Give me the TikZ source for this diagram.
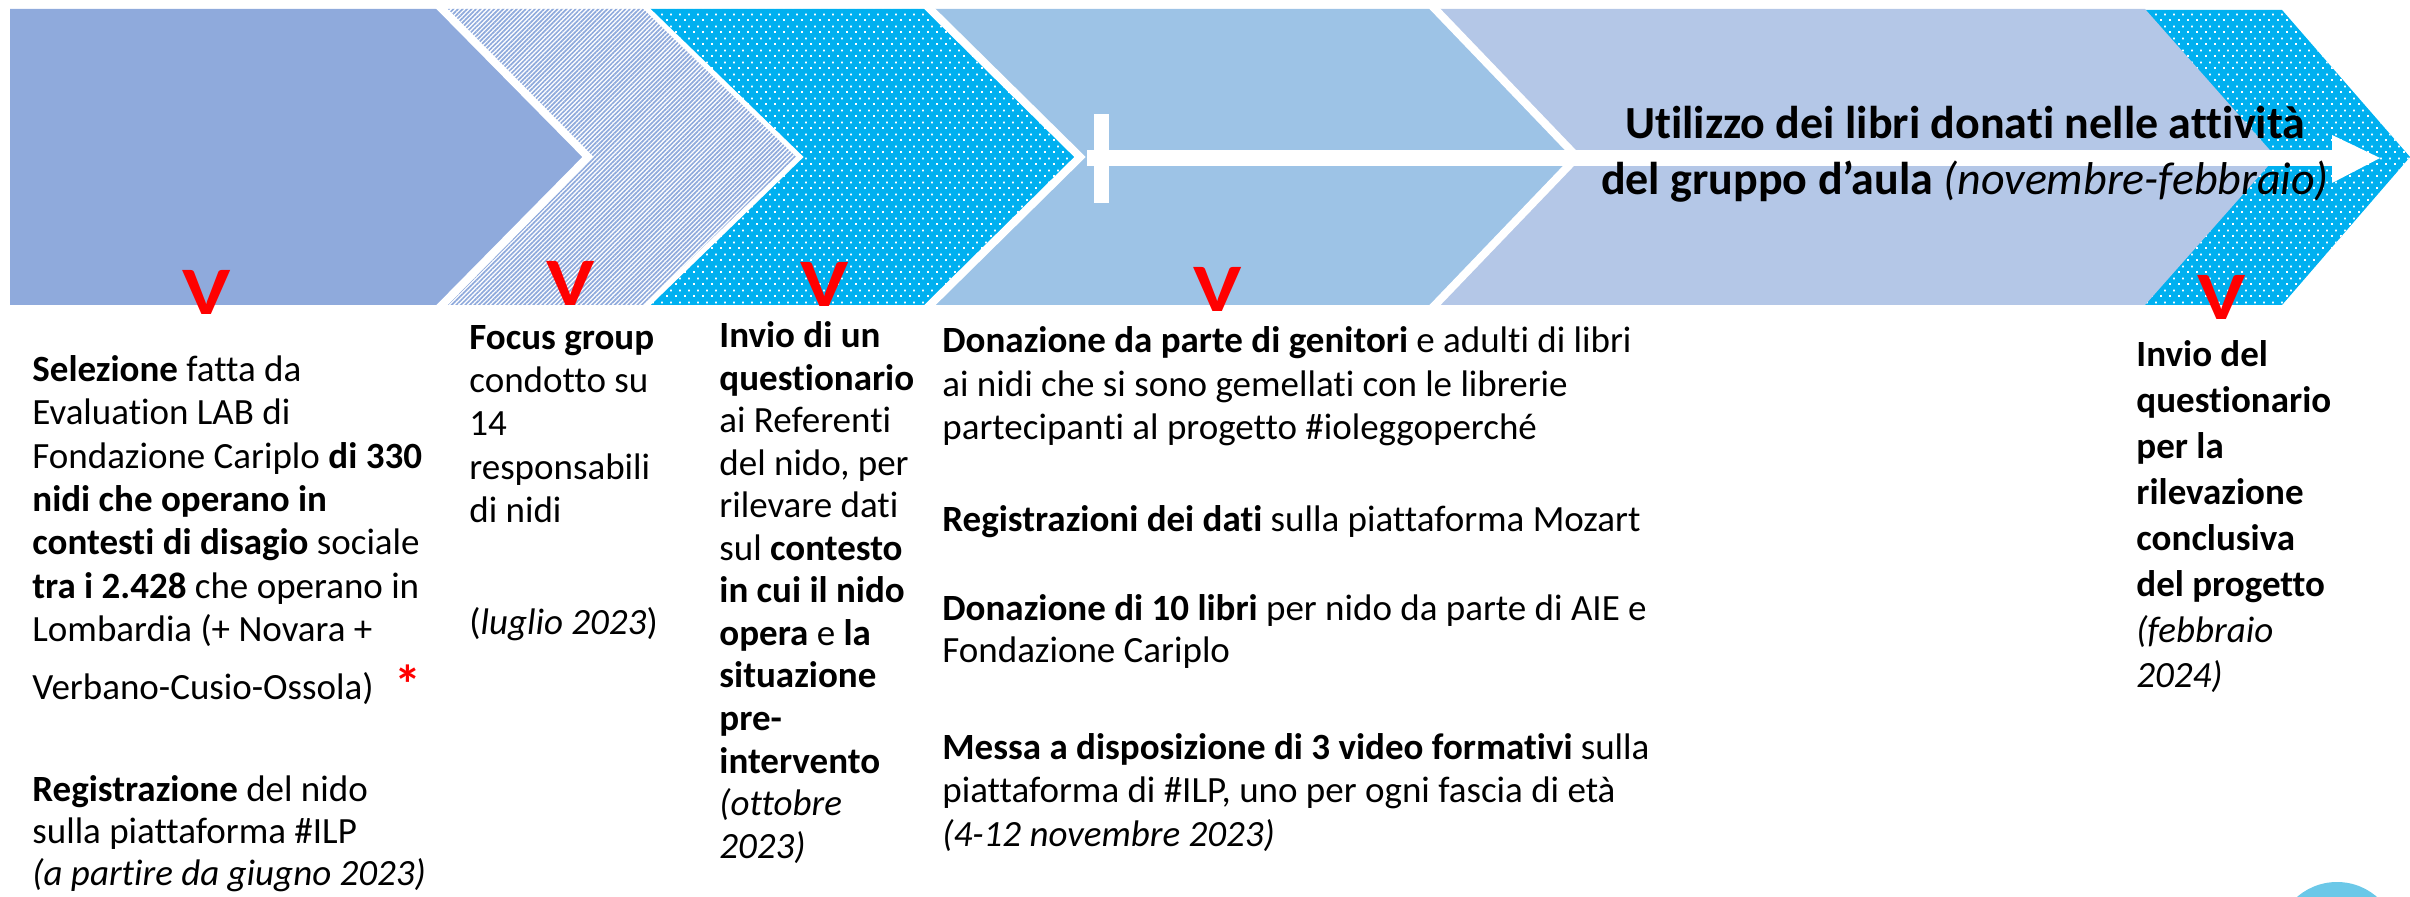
\documentclass[tikz,border=0pt]{standalone}
\usepackage{fontspec}
\setmainfont{Carlito}[Ligatures={NoCommon}]
\usepackage{graphicx}
\usetikzlibrary{patterns,patterns.meta}
\definecolor{cA}{HTML}{8FAADC}
\definecolor{cC}{HTML}{00B0F0}
\definecolor{cD}{HTML}{9DC3E6}
\definecolor{cE}{HTML}{B4C7E7}
\definecolor{cCirc}{HTML}{6BC8E8}
\pgfdeclarepatternformonly{wdots}{\pgfpointorigin}{\pgfpoint{4.5pt}{6pt}}{\pgfpoint{4.5pt}{6pt}}{%
  \pgfpathrectangle{\pgfpoint{0pt}{0pt}}{\pgfpoint{1pt}{1pt}}%
  \pgfpathrectangle{\pgfpoint{2.25pt}{3pt}}{\pgfpoint{1pt}{1pt}}%
  \pgfusepath{fill}}
\begin{document}
\begin{tikzpicture}[x=0.5pt,y=-0.5pt,
  txt/.style={anchor=base west, inner sep=0pt, font=\fontsize{18.5pt}{21.5pt}\selectfont},
  ttl/.style={anchor=base, inner sep=0pt, font=\bfseries\fontsize{23pt}{28pt}\selectfont},
  vmark/.style={anchor=base, inner sep=0pt, text=red, font=\bfseries\fontsize{34pt}{34pt}\selectfont},
  dotted band/.style={preaction={fill=cC}, pattern=wdots, pattern color=white},
  gapline/.style={draw=white, line width=4pt, line join=miter}]
\useasboundingbox (0,0) rectangle (2410,897);

% chevrons
\begin{scope}
\clip (0,9) rectangle (2410,305);
\fill[cA] (10,9) -- (442,9) -- (588,157) -- (442,305) -- (10,305) -- cycle;
\path[pattern={Lines[angle=45,distance=1.6pt,line width=0.85pt]}, pattern color=cA]
  (442,9) -- (647,9) -- (800,157) -- (647,305) -- (442,305) -- (588,157) -- cycle;
\path[dotted band] (647,9) -- (930,9) -- (1080,157) -- (930,305) -- (647,305) -- (800,157) -- cycle;
\fill[cD] (930,9) -- (1435,9) -- (1577,157) -- (1435,305) -- (930,305) -- (1080,157) -- cycle;
\path[dotted band] (2100,10) -- (2282,10) -- (2410,157) -- (2282,305) -- (2100,305) -- cycle;
\fill[cE] (1435,9) -- (2145,9) -- (2276,157) -- (2145,305) -- (1435,305) -- (1577,157) -- cycle;
\draw[gapline] (423.3,-10) -- (588,157) -- (423.3,324);
\draw[gapline, line width=2.5pt] (627.4,-10) -- (800,157) -- (627.4,324);
\draw[gapline] (910.7,-10) -- (1080,157) -- (910.7,324);
\draw[gapline] (1416.8,-10) -- (1577,157) -- (1416.8,324);
\end{scope}

% white arrow
\fill[white] (1087,150) rectangle (2332,166);
\fill[white] (1094,114) rectangle (1109,203);
\fill[white] (2332,135) -- (2380,158) -- (2332,183) -- cycle;

% title
\node[ttl] (t1) at (1965,139) {Utilizzo dei libri donati nelle attività};
\node[ttl] (t2) at (1965,195) {del gruppo d’aula \textit{\mdseries (novembre-febbraio)}};

% red marks
\node[vmark] (v1) at (207,315) {\scalebox{1.2}[1]{V}};
\node[vmark] (v2) at (571,306) {\scalebox{1.2}[1]{V}};
\node[vmark] (v3) at (825,307) {\scalebox{1.2}[1]{V}};
\node[vmark] (v4) at (1218,312) {\scalebox{1.2}[1]{V}};
\node[vmark] (v5) at (2222,320) {\scalebox{1.2}[1]{V}};

% column 1
\foreach \yy/\mytext [count=\i] in {
  382/{\textbf{Selezione} fatta da},
  425/{Evaluation LAB di},
  469/{Fondazione Cariplo \textbf{di 330}},
  512/{\textbf{nidi che operano in}},
  555/{\textbf{contesti di disagio} sociale},
  599/{\textbf{tra i 2.428} che operano in},
  642/{Lombardia (+ Novara +},
  699/{Verbano-Cusio-Ossola)},
  801/{\textbf{Registrazione} del nido},
  843/{sulla piattaforma \#ILP},
  885/{\textit{(a partire da giugno 2023)}}}
  \node[txt] (a\i) at (32,\yy) {\mytext};
\node[anchor=base, inner sep=0pt, text=red, font=\bfseries\fontsize{27pt}{27pt}\selectfont] (ast) at (408,704) {*};

% column 2
\foreach \yy/\mytext [count=\i] in {
  350/{\textbf{Focus group}},
  393/{condotto su},
  436/{14},
  480/{responsabili},
  523/{di nidi},
  635/{(\textit{luglio 2023})}}
  \node[txt] (b\i) at (469,\yy) {\mytext};

% column 3
\foreach \yy/\mytext [count=\i] in {
  348/{\textbf{Invio di un}},
  390.5/{\textbf{questionario}},
  433/{ai Referenti},
  475.5/{del nido, per},
  518/{rilevare dati},
  560.5/{sul \textbf{contesto}},
  603/{\textbf{in cui il nido}},
  645.5/{\textbf{opera} e \textbf{la}},
  688/{\textbf{situazione}},
  730.5/{\textbf{pre-}},
  773/{\textbf{intervento}},
  815.5/{\textit{(ottobre}},
  858/{\textit{2023)}}}
  \node[txt] (c\i) at (719,\yy) {\mytext};

% column 4
\foreach \yy/\mytext [count=\i] in {
  353/{\textbf{Donazione da parte di genitori} e adulti di libri},
  397/{ai nidi che si sono gemellati  con le librerie},
  440/{partecipanti al progetto \#ioleggoperché},
  532/{\textbf{Registrazioni dei dati} sulla piattaforma Mozart},
  621/{\textbf{Donazione di 10 libri} per nido da parte di AIE e},
  663/{Fondazione Cariplo},
  759/{\textbf{Messa a disposizione di 3 video formativi} sulla},
  802/{piattaforma di \#ILP, uno per ogni fascia di età},
  846/{\textit{(4-12 novembre 2023)}}}
  \node[txt] (d\i) at (942,\yy) {\mytext};

% column 5
\foreach \yy/\mytext [count=\i] in {
  367/{\textbf{Invio del}},
  413/{\textbf{questionario}},
  459/{\textbf{per la}},
  505/{\textbf{rilevazione}},
  551/{\textbf{conclusiva}},
  597/{\textbf{del progetto}},
  643/{\textit{(febbraio}},
  688/{\textit{2024)}}}
  \node[txt] (e\i) at (2136,\yy) {\mytext};

% corner circle
\fill[cCirc] (2337,943) circle (30.5pt);
\end{tikzpicture}
\end{document}
